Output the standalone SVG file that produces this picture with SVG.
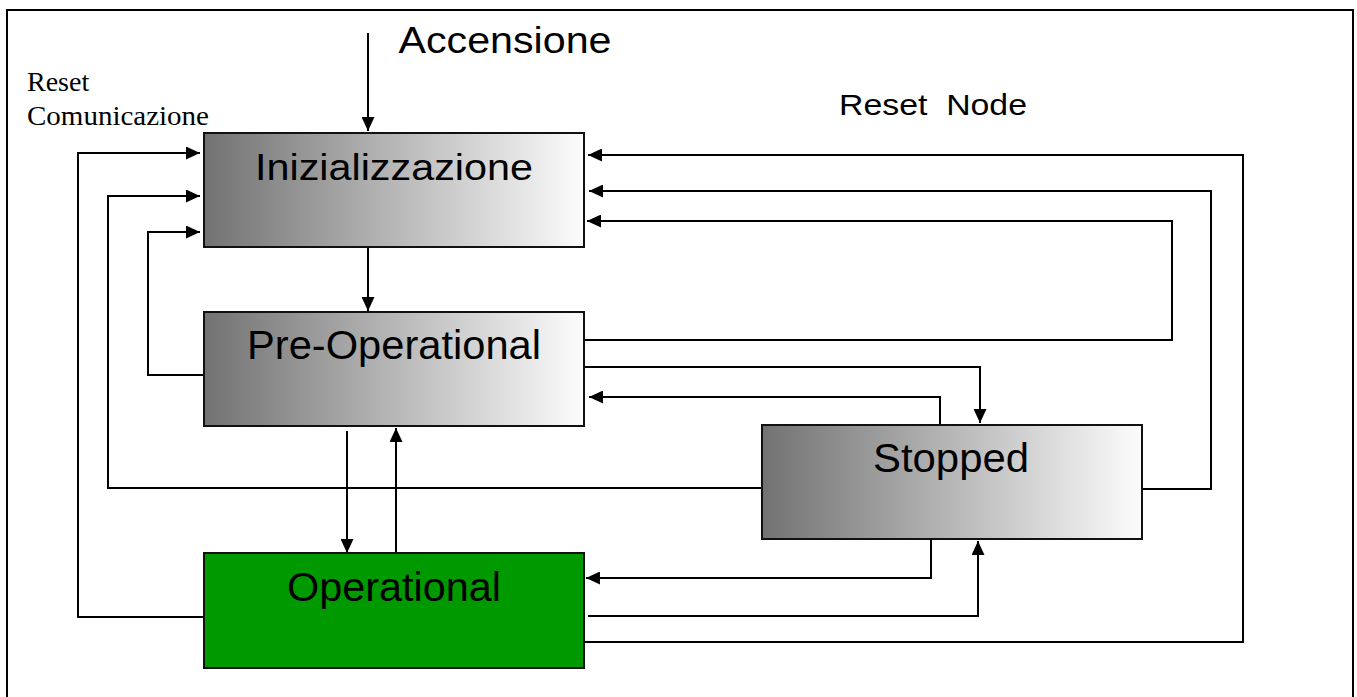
<svg xmlns="http://www.w3.org/2000/svg" width="1357" height="697" viewBox="0 0 1357 697">
<style>
.box{stroke:#111;stroke-width:2}
.grad{fill:url(#g)}
.op{fill:#009900}
.lbl{font-family:"Liberation Sans",Arial,sans-serif;fill:#000}
.ser{font-family:"Liberation Serif","Times New Roman",serif;fill:#000;font-size:28px}
.c{fill:none;stroke:#000;stroke-width:2}
.a{marker-end:url(#ah)}
</style>
<defs>
<linearGradient id="g" x1="0" y1="0" x2="1" y2="0">
<stop offset="0" stop-color="#727272"/>
<stop offset="1" stop-color="#fcfcfc"/>
</linearGradient>
<marker id="ah" markerUnits="userSpaceOnUse" markerWidth="14" markerHeight="13" refX="14" refY="6.5" orient="auto" viewBox="0 0 14 13">
<path d="M0,0 L14,6.5 L0,13 z" fill="#000"/>
</marker>
</defs>
<rect x="7" y="10" width="1346" height="700" fill="#fff" stroke="#000" stroke-width="2"/>

<g id="connectors">
<!-- Accensione -->
<path class="c a" d="M368,33 V131"/>
<!-- Init -> PreOp -->
<path class="c a" d="M368,247 V311"/>
<!-- PreOp <-> Operational -->
<path class="c a" d="M347,431 V553"/>
<path class="c a" d="M396,553 V428"/>
<!-- Reset Comunicazione returns -->
<path class="c a" d="M204,617 H78 V153 H200"/>
<path class="c a" d="M762,488 H108 V196 H200"/>
<path class="c a" d="M204,375 H148 V232 H200"/>
<!-- Reset Node returns -->
<path class="c a" d="M584,642 H1243 V155 H588"/>
<path class="c a" d="M1142,489 H1211 V191 H589"/>
<path class="c a" d="M584,340 H1172 V221 H587"/>
<!-- PreOp <-> Stopped -->
<path class="c a" d="M584,367 H980 V423"/>
<path class="c a" d="M940,425 V397 H589"/>
<!-- Stopped <-> Operational -->
<path class="c a" d="M931,539 V578 H586"/>
<path class="c a" d="M588,616 H978 V541"/>
</g>

<g id="inizializzazione">
<rect class="box grad" x="204" y="133" width="380" height="114"/>
<text class="lbl" x="394" y="180" font-size="36" text-anchor="middle" textLength="278" lengthAdjust="spacingAndGlyphs">Inizializzazione</text>
</g>
<g id="preoperational">
<rect class="box grad" x="204" y="312" width="380" height="114"/>
<text class="lbl" x="394" y="359" font-size="40" text-anchor="middle" textLength="294" lengthAdjust="spacingAndGlyphs">Pre-Operational</text>
</g>
<g id="operational">
<rect class="box op" x="204" y="553" width="380" height="115"/>
<text class="lbl" x="394" y="601" font-size="40" text-anchor="middle" textLength="214" lengthAdjust="spacingAndGlyphs">Operational</text>
</g>
<g id="stopped">
<rect class="box grad" x="762" y="425" width="380" height="114"/>
<text class="lbl" x="951" y="472" font-size="40" text-anchor="middle" textLength="156" lengthAdjust="spacingAndGlyphs">Stopped</text>
</g>

<g id="labels">
<text class="lbl" x="505" y="53" font-size="36" text-anchor="middle" textLength="213" lengthAdjust="spacingAndGlyphs">Accensione</text>
<text class="lbl" x="839" y="115" font-size="30" textLength="188" lengthAdjust="spacingAndGlyphs" xml:space="preserve">Reset  Node</text>
<text class="ser" x="27" y="91">Reset</text>
<text class="ser" x="27" y="125" textLength="182" lengthAdjust="spacingAndGlyphs">Comunicazione</text>
</g>
</svg>
